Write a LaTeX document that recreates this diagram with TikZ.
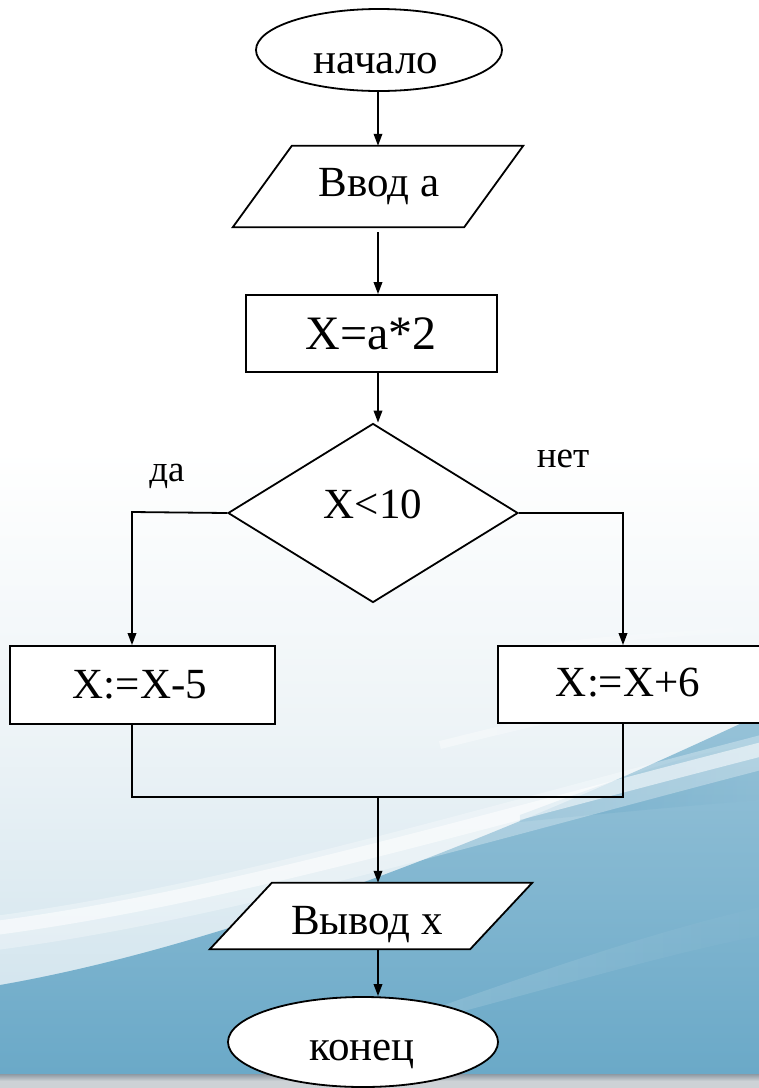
\documentclass[tikz,border=0pt]{standalone}
\usepackage{fontspec}
\setmainfont{Liberation Serif}
\usetikzlibrary{shapes.geometric,arrows.meta,calc,fadings}
\definecolor{bgblue}{HTML}{69A8C7}
\definecolor{bglight}{HTML}{D3E5EE}
\definecolor{bgpale}{HTML}{EEF4F7}
\definecolor{stripdark}{HTML}{8E99A3}
\definecolor{striplight}{HTML}{CDD2D6}
\begin{document}
\begin{tikzpicture}[x=1pt,y=-1pt,
  shp/.style={draw=black, line width=1.8pt, fill=white, inner sep=0pt},
  term/.style={shp, ellipse},
  procbox/.style={shp, rectangle},
  decide/.style={shp, diamond},
  ioframe/.style={rectangle, inner sep=0pt},
  arr/.style={-{Triangle[length=12pt,width=8.5pt]}, line width=1.8pt},
  ln/.style={line width=1.8pt},
  txt/.style={anchor=base, inner sep=0pt, font=\fontsize{43}{47}\selectfont},
  lbl/.style={anchor=base, inner sep=0pt, font=\fontsize{37}{40}\selectfont}]
% ---------- background ----------
\useasboundingbox (0,0) rectangle (759,1088);
\fill[white] (0,0) rectangle (759,1088);
\shade[top color=white, bottom color=bgpale] (0,450) rectangle (759,720);
\shade[top color=bgpale, bottom color=bglight] (0,720) rectangle (759,1000);
\shade[top color=bgblue!70!white, bottom color=bgblue] (0,985) .. controls (200,950) and (450,860) .. (759,715) -- (759,1088) -- (0,1088) -- cycle;
\fill[bgblue, opacity=0.5, path fading=east] (520,815) .. controls (640,770) and (700,750) .. (759,745) -- (759,800) .. controls (700,805) and (640,810) .. (520,822) -- cycle;
\draw[white, line width=34pt, opacity=0.3, line cap=round] (-20,935) .. controls (220,905) and (460,830) .. (790,745);
\draw[white, line width=14pt, opacity=0.55] (-20,930) .. controls (220,900) and (460,826) .. (790,742);
\draw[white, line width=8pt, opacity=0.4, path fading=east] (440,745) .. controls (600,705) and (680,690) .. (790,680);
\draw[white, line width=5pt, opacity=0.45, path fading=east] (500,655) .. controls (620,630) and (700,640) .. (790,620);
\fill[white, opacity=0.15, path fading=east] (430,1010) .. controls (600,950) and (680,925) .. (790,900) -- (790,930) .. controls (680,950) and (600,975) .. (430,1020) -- cycle;
\shade[top color=stripdark, bottom color=striplight] (0,1074) rectangle (759,1081);
\fill[striplight] (0,1081) rectangle (759,1088);
% ---------- shapes ----------
\coordinate (ax) at (378,0);
\node[term, minimum width=246pt, minimum height=82pt] (start) at (379,50) {};
\node[txt] (tstart) at (376,73) {начало};
\node[ioframe, minimum width=231pt, minimum height=81pt] (in) at (378,186.5) {};
\path[shp] ([xshift=29.5pt]in.north west) -- ([xshift=29.5pt]in.north east) -- ([xshift=-29.5pt]in.south east) -- ([xshift=-29.5pt]in.south west) -- cycle;
\node[txt] (tin) at (379,196) {Ввод а};
\node[procbox, minimum width=251pt, minimum height=77pt] (calc) at (371.5,333.5) {};
\node[txt, font=\fontsize{48}{52}\selectfont] (tcalc) at (371,349) {X=a*2};
\node[decide, minimum width=290pt, minimum height=179pt] (dec) at (373,513) {};
\node[txt] (tdec) at (373,518) {X<10};
\node[lbl] (yes) at (167,481) {да};
\node[lbl] (no) at (563,467) {нет};
\node[procbox, minimum width=265pt, minimum height=78pt] (lbox) at (142.5,685) {};
\node[txt] (tl) at (140,698) {X:=X-5};
\node[procbox, minimum width=266pt, minimum height=77pt] (rbox) at (631,684.5) {};
\node[txt] (tr) at (628,696) {X:=X+6};
\node[ioframe, minimum width=260pt, minimum height=66pt] (out) at (371,916) {};
\path[shp] ([xshift=31pt]out.north west) -- ([xshift=31pt]out.north east) -- ([xshift=-31pt]out.south east) -- ([xshift=-31pt]out.south west) -- cycle;
\node[txt] (tout) at (367,934) {Вывод х};
\node[term, minimum width=270pt, minimum height=90pt] (stop) at (363,1042) {};
\node[txt] (tstop) at (362,1060) {конец};
% ---------- connectors ----------
\coordinate (lc) at (132,512);
\coordinate (rc) at (623,513);
\coordinate (lm) at (132,797);
\coordinate (rm) at (623,797);
\draw[arr] (ax |- start.south) -- (ax |- in.north);
\draw[arr, shorten <=5pt] (ax |- in.south) -- (ax |- calc.north);
\draw[arr] (ax |- calc.south) -- (ax |- dec.north);
\draw[arr] (dec.west) -- (lc) -- (lc |- lbox.north);
\draw[arr] (dec.east) -- (rc) -- (rc |- rbox.north);
\draw[ln] (lc |- lbox.south) -- (lm) -- (rm) -- (rc |- rbox.south);
\draw[arr] (ax |- lm) -- (ax |- out.north);
\draw[arr] (ax |- out.south) -- (ax |- stop.north);
\end{tikzpicture}
\end{document}
